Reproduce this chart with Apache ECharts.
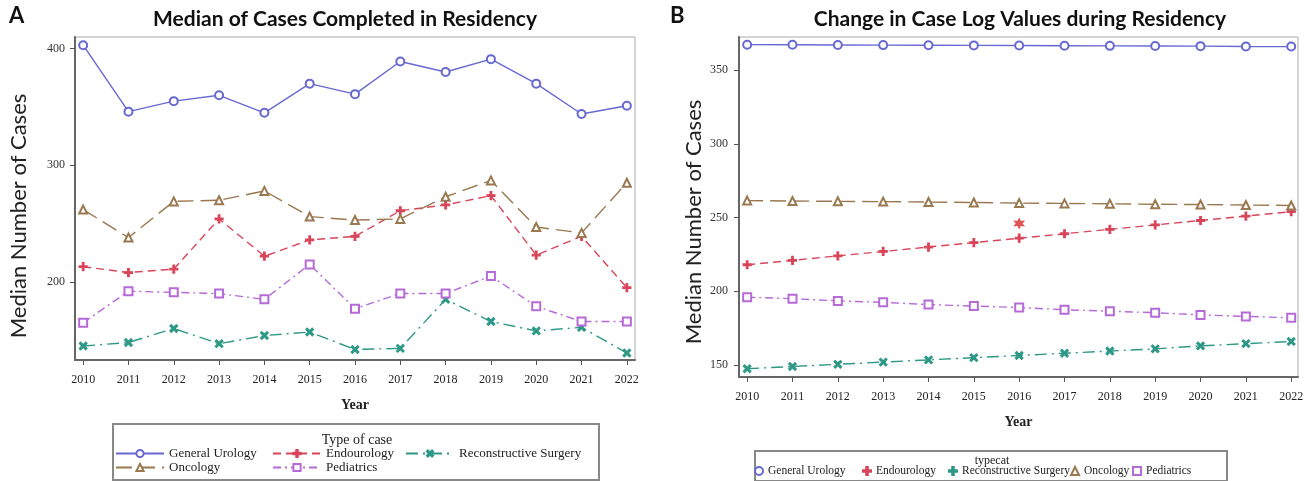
<!DOCTYPE html>
<html>
<head>
<meta charset="utf-8">
<script src="https://cdn.jsdelivr.net/npm/echarts@6/dist/echarts.min.js"></script>
<style>
  html, body { margin: 0; padding: 0; background: #fff; }
  #wrap { position: relative; width: 1316px; height: 481px; }
  #chartA { position: absolute; left: 0; top: 0; width: 658px; height: 481px; }
  #chartB { position: absolute; left: 658px; top: 0; width: 658px; height: 481px; }
</style>
</head>
<body>
<div id="wrap"><div id="chartA"></div><div id="chartB"></div></div>
<script>
// Residency years on the x axis
const years = [2010, 2011, 2012, 2013, 2014, 2015, 2016, 2017, 2018, 2019, 2020, 2021, 2022];
const seriesNames = ['General Urology', 'Endourology', 'Reconstructive Surgery', 'Oncology', 'Pediatrics'];

// Panel A: median cases completed per year
const medGeneralUrology = [403, 346, 355, 360, 345, 370, 361, 389, 380, 391, 370, 344, 351];
const medEndourology    = [213, 208, 211, 254, 222, 236, 239, 261, 266, 274, 223, 239, 195];
const medReconstructive = [145, 148, 160, 147, 154, 157, 142, 143, 185, 166, 158, 161, 139];
const medOncology       = [262, 238, 269, 270, 278, 256, 253, 254, 273, 287, 247, 242, 285];
const medPediatrics     = [165, 192, 191, 190, 185, 215, 177, 190, 190, 205, 179, 166, 166];

// Panel B: case log values over residency
const logGeneralUrology = [367.2, 367.1, 367.0, 366.9, 366.8, 366.7, 366.6, 366.5, 366.4, 366.3, 366.2, 366.0, 365.9];
const logEndourology    = [218, 221, 224, 227, 230, 233, 236, 239, 242, 245, 248, 251, 254];
const logReconstructive = [147.5, 149, 150.5, 152, 153.5, 155, 156.5, 158, 159.5, 161, 163, 164.5, 166];
const logOncology       = [261.5, 261.2, 261, 260.8, 260.5, 260.2, 259.8, 259.6, 259.3, 259, 258.8, 258.5, 258.2];
const logPediatrics     = [196, 195, 193.5, 192.5, 191, 190, 189, 187.5, 186.5, 185.5, 184, 183, 182];
const starPoint = [[2016, 246]];

// Tick labels
const yTicksA = [200, 300, 400];
const yTicksB = [150, 200, 250, 300, 350];

const SERIF = '"Liberation Serif", "DejaVu Serif", serif';
const SANS = 'Lato, "Open Sans", sans-serif';

const PLUS = 'path://M4,0H6V4H10V6H6V10H4V6H0V4H4Z';
const STAR = 'path://M10,0L12.5,5.67L18.66,5L15,10L18.66,15L12.5,14.33L10,20L7.5,14.33L1.34,15L5,10L1.34,5L7.5,5.67Z';

const styles = {
  'General Urology':        { color: '#6868d2', dash: 'solid',          symbol: 'emptyCircle',   size: 8, rot: 0 },
  'Endourology':            { color: '#d8455a', dash: [8, 5],           symbol: PLUS,            size: 8, rot: 0 },
  'Reconstructive Surgery': { color: '#2e9886', dash: [12, 5, 2, 5],    symbol: PLUS,            size: 9, rot: 45 },
  'Oncology':               { color: '#9a7850', dash: [16, 7],          symbol: 'emptyTriangle', size: 8, rot: 0 },
  'Pediatrics':             { color: '#b56ad8', dash: [8, 4, 2, 4],     symbol: 'emptyRect',     size: 8, rot: 0 }
};

function pairs(vals) { return years.map((y, i) => [y, vals[i]]); }

function makeSeries(name, vals) {
  const s = styles[name];
  return {
    name: name, type: 'line', data: pairs(vals),
    symbol: s.symbol, symbolSize: s.size, symbolRotate: s.rot,
    showSymbol: true, animation: false,
    lineStyle: { color: s.color, width: 1.4, type: s.dash },
    itemStyle: { color: s.color, borderColor: s.color, borderWidth: 1.2 },
    emphasis: { disabled: true }
  };
}

function axes(yMin, yMax, yTicks, xMin, xMax, yLabelMargin) {
  return {
    xAxis: {
      type: 'value', min: xMin, max: xMax,
      name: 'Year', nameLocation: 'middle', nameGap: 38,
      nameTextStyle: { fontFamily: SERIF, fontWeight: 'bold', fontSize: 14, color: '#222' },
      axisLine: { show: true, lineStyle: { color: '#666', width: 2 } },
      axisTick: { show: true, customValues: years, length: 5, lineStyle: { color: '#555' } },
      axisLabel: { customValues: years, formatter: v => String(v), fontFamily: SERIF, fontSize: 12, color: '#222', margin: 14 },
      splitLine: { show: false }
    },
    yAxis: {
      type: 'value', min: yMin, max: yMax,
      axisLine: { show: true, lineStyle: { color: '#666', width: 2 } },
      axisTick: { show: true, customValues: yTicks, length: 5, lineStyle: { color: '#555' } },
      axisLabel: { customValues: yTicks, formatter: v => String(v), fontFamily: SERIF, fontSize: 12, color: '#333', margin: yLabelMargin },
      splitLine: { show: false }
    }
  };
}

function yTitle(x, y) {
  return {
    type: 'text', x: x, y: y, rotation: Math.PI / 2,
    style: { text: 'Median Number of Cases', font: '22px ' + SANS, fill: '#222', align: 'center', verticalAlign: 'middle' }
  };
}

// ---------- Panel A ----------
const chartA = echarts.init(document.getElementById('chartA'), null, { renderer: 'canvas' });
const axA = axes(133, 410, yTicksA, 2009.82, 2022.18, 10);
const legendRowsA = [
  { name: 'General Urology', left: 115, top: 447 },
  { name: 'Endourology', left: 272, top: 447 },
  { name: 'Reconstructive Surgery', left: 405, top: 447 },
  { name: 'Oncology', left: 115, top: 461 },
  { name: 'Pediatrics', left: 272, top: 461 }
];
chartA.setOption({
  animation: false,
  grid: { left: 75, right: 23, top: 37, bottom: 121, show: true, borderColor: '#aaa', borderWidth: 1 },
  xAxis: axA.xAxis, yAxis: axA.yAxis,
  legend: legendRowsA.map(r => ({
    data: [r.name], left: r.left, top: r.top, itemWidth: 48, itemHeight: 9, selectedMode: false,
    padding: 0, textStyle: { fontFamily: SERIF, fontSize: 13, color: '#222' }
  })),
  series: [
    makeSeries('General Urology', medGeneralUrology),
    makeSeries('Endourology', medEndourology),
    makeSeries('Reconstructive Surgery', medReconstructive),
    makeSeries('Oncology', medOncology),
    makeSeries('Pediatrics', medPediatrics)
  ],
  graphic: [
    { type: 'text', left: 9, top: 5, style: { text: 'A', font: 'bold 22px ' + SANS, fill: '#111' } },
    { type: 'text', x: 345, y: 19, style: { text: 'Median of Cases Completed in Residency', font: 'bold 21px ' + SANS, fill: '#111', align: 'center', verticalAlign: 'middle' } },
    yTitle(19, 216),
    { type: 'rect', shape: { x: 113, y: 424, width: 486, height: 56 }, style: { fill: 'none', stroke: '#888', lineWidth: 2 }, z: -1 },
    { type: 'text', x: 357, y: 440, style: { text: 'Type of case', font: '14px ' + SERIF, fill: '#222', align: 'center', verticalAlign: 'middle' } }
  ]
});

// ---------- Panel B ----------
const chartB = echarts.init(document.getElementById('chartB'), null, { renderer: 'canvas' });
const axB = axes(141.9, 372.4, yTicksB, 2009.82, 2022.15, 11);
const legendRowsB = [
  { name: 'General Urology', icon: 'emptyCircle', left: 96 },
  { name: 'Endourology', icon: PLUS, left: 204 },
  { name: 'Reconstructive Surgery', icon: PLUS, left: 290 },
  { name: 'Oncology', icon: 'emptyTriangle', left: 412 },
  { name: 'Pediatrics', icon: 'emptyRect', left: 474 }
];
chartB.setOption({
  animation: false,
  grid: { left: 81, right: 18, top: 37, bottom: 104, show: true, borderColor: '#aaa', borderWidth: 1 },
  xAxis: axB.xAxis, yAxis: axB.yAxis,
  legend: legendRowsB.map(r => ({
    data: [{ name: r.name, icon: r.icon }], left: r.left, top: 465, itemWidth: 8, itemHeight: 8, itemGap: 0,
    selectedMode: false, padding: 0, textStyle: { fontFamily: SERIF, fontSize: 11.5, color: '#222' }
  })),
  series: [
    makeSeries('General Urology', logGeneralUrology),
    makeSeries('Endourology', logEndourology),
    makeSeries('Reconstructive Surgery', logReconstructive),
    makeSeries('Oncology', logOncology),
    makeSeries('Pediatrics', logPediatrics),
    {
      name: 'significance', type: 'scatter', data: starPoint, symbol: STAR, symbolSize: 12,
      itemStyle: { color: '#d42a2a' }, animation: false, emphasis: { disabled: true }
    }
  ],
  graphic: [
    { type: 'text', left: 12, top: 5, style: { text: 'B', font: 'bold 22px ' + SANS, fill: '#111' } },
    { type: 'text', x: 362, y: 19, style: { text: 'Change in Case Log Values during Residency', font: 'bold 21px ' + SANS, fill: '#111', align: 'center', verticalAlign: 'middle' } },
    yTitle(36, 222),
    { type: 'rect', shape: { x: 97, y: 451, width: 472, height: 30 }, style: { fill: 'none', stroke: '#888', lineWidth: 2 }, z: -1 },
    { type: 'text', x: 334, y: 461, style: { text: 'typecat', font: '12px ' + SERIF, fill: '#222', align: 'center', verticalAlign: 'middle' } }
  ]
});
</script>
</body>
</html>
